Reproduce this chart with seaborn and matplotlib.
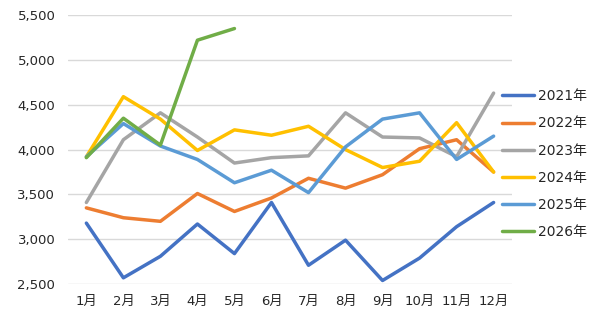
import pandas as pd
import seaborn as sns
import matplotlib.pyplot as plt

# monthly values per year
months = ['1月', '2月', '3月', '4月', '5月', '6月', '7月', '8月', '9月', '10月', '11月', '12月']
years = ['2021年', '2022年', '2023年', '2024年', '2025年', '2026年']
y2021 = [3180, 2570, 2810, 3170, 2840, 3410, 2710, 2990, 2540, 2790, 3140, 3410]
y2022 = [3350, 3240, 3200, 3510, 3310, 3460, 3680, 3570, 3720, 4010, 4110, 3750]
y2023 = [3410, 4110, 4410, 4140, 3850, 3910, 3930, 4410, 4140, 4130, 3920, 4630]
y2024 = [3920, 4590, 4340, 3990, 4220, 4160, 4260, 4000, 3800, 3870, 4300, 3750]
y2025 = [3920, 4290, 4040, 3890, 3630, 3770, 3520, 4030, 4340, 4410, 3890, 4150]
y2026 = [3910, 4350, 4050, 5220, 5350]
colors = ['#4472C4', '#ED7D31', '#A5A5A5', '#FFC000', '#5B9BD5', '#70AD47']

rows = []
for yr, vals in zip(years, [y2021, y2022, y2023, y2024, y2025, y2026]):
    for m, v in zip(months, vals):
        rows.append({'month': m, 'value': v, 'year': yr})
df = pd.DataFrame(rows)
df['month'] = pd.Categorical(df['month'], categories=months, ordered=True)
df['x'] = df['month'].cat.codes

sns.set_style('white')
plt.rcParams['font.family'] = ['DejaVu Sans', 'Noto Sans CJK JP']

fig = plt.figure(figsize=(5.9, 3.21), dpi=100)
ax = fig.add_axes([0.115, 0.115, 0.753, 0.838])

sns.lineplot(data=df, x='x', y='value', hue='year', palette=colors,
             linewidth=2.5, ax=ax, sort=False)

ax.set_xlim(-0.5, 11.5)
ax.set_ylim(2500, 5500)
ax.set_xticks(range(12))
ax.set_xticklabels(months)
ax.set_yticks(range(2500, 5501, 500))
ax.set_yticklabels([f'{v:,}' for v in range(2500, 5501, 500)])
ax.grid(axis='y', color='#D9D9D9', linewidth=1)
ax.set_axisbelow(True)
for s in ax.spines.values():
    s.set_visible(False)
ax.tick_params(axis='both', length=0, labelsize=9.5, colors='#262626')
ax.tick_params(axis='y', pad=9)
ax.tick_params(axis='x', pad=8)
ax.set_xlabel('')
ax.set_ylabel('')

ax.legend(loc='upper left', bbox_to_anchor=(0.965, 0.745), frameon=False,
          fontsize=10, handlelength=2.3, labelspacing=0.95, handletextpad=0.3,
          borderaxespad=0)

fig.savefig('out.png', dpi=100)
